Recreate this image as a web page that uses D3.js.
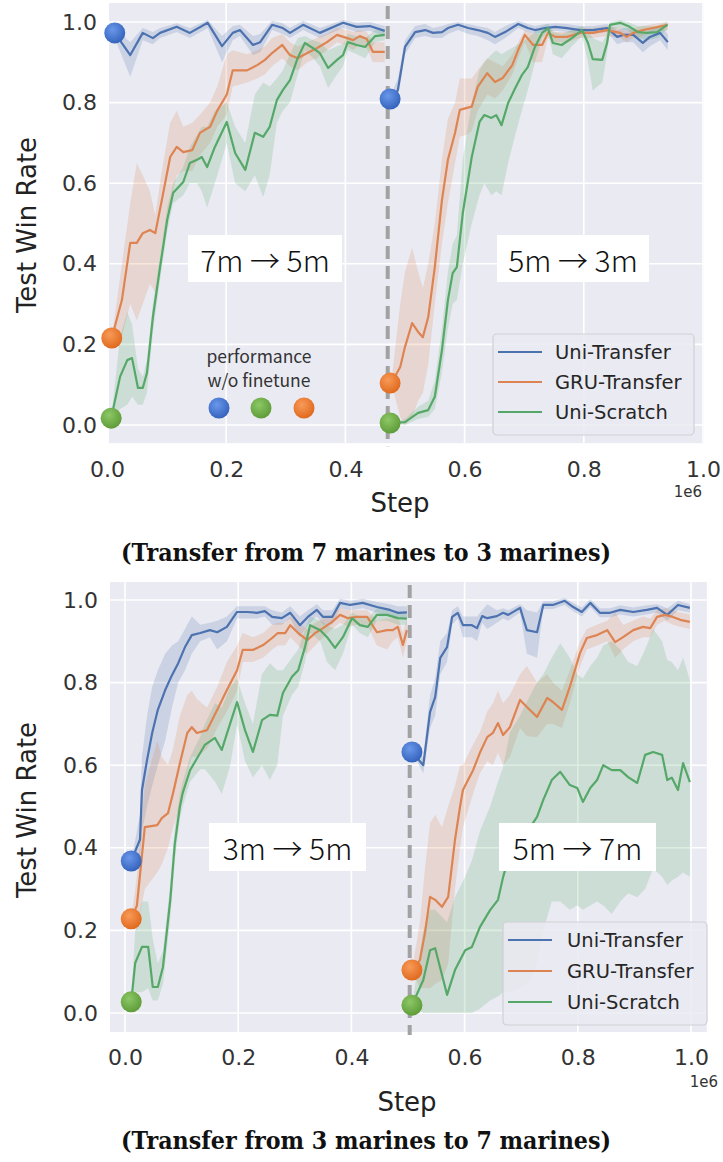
<!DOCTYPE html>
<html><head><meta charset="utf-8">
<script src="https://cdn.jsdelivr.net/npm/d3@7"></script>
<style>body{margin:0;background:#fff}svg{display:block}</style>
</head><body>
<svg id="c" width="723" height="1162"></svg>
<script>
// ---------- DATA ([step (1e6), mean, lower, upper]) ----------
const seriesNames = ["Uni-Transfer", "GRU-Transfer", "Uni-Scratch"];
const xTicks = [0, 0.2, 0.4, 0.6, 0.8, 1.0];
const yTicks = [0, 0.2, 0.4, 0.6, 0.8, 1.0];
const captions = ["(Transfer from 7 marines to 3 marines)", "(Transfer from 3 marines to 7 marines)"];
const stageLabels = [["7m \u2192 5m", "5m \u2192 3m"], ["3m \u2192 5m", "5m \u2192 7m"]];
const switchStep = [0.471, 0.503];
const noteDotOrder = [0, 2, 1]; // blue, green, orange

// zero-shot points (performance w/o finetune): [step, value]
const topDots = [[[0.013,0.973],[0.008,0.216],[0.007,0.017]], [[0.475,0.809],[0.475,0.104],[0.475,0.005]]];
const botDots = [[[0.011,0.368],[0.011,0.228],[0.011,0.027]], [[0.507,0.632],[0.507,0.104],[0.507,0.019]]];

const topUniA = [[0.013,0.973,0.960,0.985],[0.039,0.918,0.864,0.950],[0.060,0.973,0.955,0.985],[0.077,0.960,0.945,0.975],[0.089,0.973,0.960,0.985],[0.117,0.988,0.975,0.997],[0.139,0.973,0.960,0.985],[0.169,0.998,0.985,1.005],[0.193,0.940,0.900,0.965],[0.211,0.973,0.955,0.990],[0.223,0.980,0.965,0.993],[0.245,0.943,0.918,0.965],[0.257,0.950,0.925,0.970],[0.277,0.993,0.980,1.003],[0.295,0.985,0.970,0.997],[0.307,0.973,0.960,0.985],[0.329,0.993,0.980,1.003],[0.357,0.973,0.960,0.985],[0.396,0.998,0.985,1.005],[0.419,0.988,0.975,0.998],[0.441,0.990,0.978,1.000],[0.466,0.978,0.965,0.990]];
const topGruA = [[0.008,0.216,0.216,0.216],[0.025,0.31,0.22,0.40],[0.039,0.452,0.30,0.55],[0.050,0.452,0.26,0.65],[0.060,0.476,0.30,0.62],[0.072,0.484,0.35,0.58],[0.081,0.476,0.33,0.52],[0.092,0.558,0.45,0.63],[0.106,0.665,0.55,0.75],[0.117,0.690,0.62,0.78],[0.128,0.677,0.63,0.74],[0.143,0.682,0.63,0.75],[0.156,0.725,0.67,0.77],[0.173,0.740,0.70,0.80],[0.185,0.780,0.74,0.84],[0.201,0.820,0.77,0.92],[0.211,0.880,0.84,0.93],[0.235,0.880,0.85,0.92],[0.252,0.893,0.86,0.93],[0.265,0.906,0.87,0.94],[0.277,0.923,0.89,0.96],[0.294,0.943,0.91,0.97],[0.307,0.918,0.89,0.95],[0.320,0.910,0.88,0.94],[0.336,0.923,0.90,0.95],[0.352,0.935,0.91,0.96],[0.369,0.950,0.93,0.97],[0.386,0.968,0.95,0.985],[0.403,0.960,0.94,0.98],[0.413,0.955,0.93,0.975],[0.424,0.965,0.945,0.98],[0.436,0.958,0.935,0.975],[0.446,0.926,0.90,0.95],[0.466,0.926,0.90,0.95]];
const topScrA = [[0.007,0.017,0.017,0.017],[0.022,0.120,0.04,0.22],[0.034,0.161,0.05,0.28],[0.042,0.166,0.07,0.25],[0.052,0.092,0.05,0.14],[0.060,0.092,0.05,0.12],[0.067,0.129,0.08,0.16],[0.077,0.268,0.23,0.30],[0.089,0.392,0.36,0.42],[0.101,0.509,0.48,0.54],[0.111,0.576,0.55,0.60],[0.128,0.603,0.57,0.64],[0.139,0.650,0.60,0.69],[0.151,0.658,0.60,0.72],[0.159,0.665,0.58,0.74],[0.168,0.640,0.54,0.74],[0.181,0.690,0.60,0.78],[0.201,0.752,0.70,0.80],[0.215,0.675,0.60,0.74],[0.232,0.633,0.58,0.70],[0.248,0.725,0.62,0.82],[0.262,0.715,0.566,0.85],[0.273,0.740,0.62,0.84],[0.285,0.806,0.75,0.86],[0.295,0.831,0.78,0.88],[0.307,0.856,0.80,0.92],[0.320,0.911,0.87,0.96],[0.332,0.948,0.93,0.965],[0.346,0.935,0.91,0.955],[0.357,0.923,0.89,0.95],[0.371,0.886,0.836,0.93],[0.386,0.906,0.87,0.94],[0.396,0.918,0.89,0.945],[0.404,0.950,0.93,0.97],[0.419,0.943,0.92,0.965],[0.433,0.938,0.91,0.96],[0.450,0.965,0.95,0.98],[0.466,0.968,0.955,0.98]];

const topUniB = [[0.477,0.809,0.80,0.82],[0.488,0.831,0.81,0.86],[0.500,0.938,0.92,0.955],[0.517,0.975,0.96,0.99],[0.534,0.980,0.965,0.995],[0.547,0.973,0.96,0.985],[0.562,0.975,0.96,0.99],[0.572,0.985,0.97,0.995],[0.589,0.993,0.98,1.0],[0.606,0.985,0.97,0.995],[0.622,0.980,0.965,0.99],[0.639,0.973,0.955,0.985],[0.651,0.963,0.945,0.975],[0.668,0.975,0.96,0.99],[0.690,0.995,0.985,1.003],[0.706,0.985,0.975,0.995],[0.718,0.980,0.97,0.99],[0.735,0.985,0.975,0.995],[0.752,0.988,0.978,0.997],[0.772,0.985,0.975,0.995],[0.794,0.980,0.97,0.99],[0.815,0.980,0.97,0.99],[0.839,0.985,0.975,0.995],[0.856,0.963,0.945,0.98],[0.866,0.968,0.95,0.985],[0.883,0.968,0.95,0.985],[0.899,0.948,0.925,0.97],[0.911,0.963,0.94,0.98],[0.928,0.973,0.955,0.99],[0.941,0.950,0.93,0.97]];
const topGruB = [[0.477,0.104,0.104,0.104],[0.492,0.144,0.02,0.30],[0.500,0.194,0.00,0.38],[0.512,0.253,0.02,0.44],[0.522,0.231,0.06,0.38],[0.530,0.218,0.08,0.34],[0.539,0.268,0.15,0.40],[0.550,0.392,0.30,0.50],[0.562,0.558,0.45,0.66],[0.572,0.658,0.55,0.76],[0.584,0.725,0.65,0.80],[0.592,0.782,0.715,0.86],[0.604,0.787,0.72,0.86],[0.612,0.790,0.73,0.86],[0.622,0.839,0.78,0.88],[0.638,0.873,0.82,0.91],[0.651,0.851,0.81,0.90],[0.664,0.861,0.83,0.89],[0.680,0.893,0.87,0.92],[0.690,0.931,0.91,0.95],[0.701,0.968,0.95,0.98],[0.715,0.943,0.90,0.97],[0.730,0.943,0.90,0.97],[0.740,0.973,0.96,0.985],[0.752,0.963,0.95,0.975],[0.772,0.963,0.95,0.975],[0.794,0.973,0.96,0.985],[0.815,0.973,0.96,0.985],[0.839,0.980,0.965,0.99],[0.861,0.973,0.96,0.985],[0.872,0.963,0.95,0.975],[0.883,0.973,0.96,0.985],[0.899,0.980,0.965,0.99],[0.916,0.985,0.975,0.995],[0.941,0.993,0.98,1.0]];
const topScrB = [[0.477,0.005,0.005,0.005],[0.500,0.007,0.0,0.015],[0.522,0.030,0.015,0.045],[0.539,0.037,0.02,0.06],[0.550,0.070,0.04,0.11],[0.562,0.186,0.13,0.24],[0.572,0.310,0.24,0.38],[0.580,0.377,0.30,0.45],[0.587,0.392,0.31,0.47],[0.597,0.526,0.40,0.66],[0.612,0.665,0.50,0.80],[0.625,0.752,0.57,0.88],[0.633,0.769,0.60,0.90],[0.645,0.762,0.57,0.92],[0.653,0.769,0.58,0.93],[0.662,0.744,0.57,0.92],[0.673,0.799,0.65,0.93],[0.685,0.836,0.72,0.94],[0.696,0.868,0.78,0.95],[0.706,0.888,0.83,0.96],[0.718,0.938,0.90,0.975],[0.730,0.973,0.96,0.99],[0.740,0.985,0.975,0.995],[0.748,0.948,0.92,0.975],[0.763,0.943,0.91,0.97],[0.780,0.960,0.94,0.98],[0.797,0.980,0.965,0.99],[0.807,0.948,0.90,0.98],[0.815,0.908,0.83,0.96],[0.831,0.906,0.85,0.95],[0.839,0.948,0.92,0.97],[0.844,0.993,0.98,1.0],[0.861,0.998,0.985,1.005],[0.877,0.988,0.975,0.998],[0.891,0.975,0.96,0.99],[0.906,0.973,0.955,0.99],[0.923,0.975,0.96,0.99],[0.940,0.993,0.98,1.0]];

const botUniA = [[0.011,0.368,0.368,0.368],[0.0265,0.42,0.36,0.48],[0.030,0.54,0.44,0.62],[0.039,0.613,0.50,0.72],[0.048,0.678,0.55,0.79],[0.058,0.734,0.60,0.83],[0.071,0.782,0.66,0.87],[0.083,0.818,0.74,0.89],[0.094,0.847,0.80,0.90],[0.106,0.886,0.83,0.93],[0.118,0.915,0.87,0.96],[0.133,0.920,0.90,0.94],[0.150,0.927,0.91,0.945],[0.163,0.922,0.88,0.95],[0.180,0.935,0.90,0.96],[0.198,0.971,0.955,0.985],[0.216,0.971,0.955,0.985],[0.233,0.969,0.955,0.985],[0.247,0.973,0.96,0.985],[0.260,0.959,0.94,0.975],[0.277,0.956,0.94,0.97],[0.292,0.969,0.955,0.985],[0.309,0.939,0.91,0.96],[0.323,0.959,0.94,0.975],[0.339,0.976,0.96,0.99],[0.350,0.959,0.94,0.975],[0.366,0.959,0.94,0.975],[0.380,0.993,0.98,1.003],[0.398,0.988,0.975,0.998],[0.420,0.993,0.98,1.003],[0.445,0.983,0.97,0.995],[0.468,0.976,0.96,0.99],[0.482,0.969,0.955,0.985],[0.498,0.970,0.955,0.985]];
const botGruA = [[0.011,0.228,0.228,0.228],[0.021,0.26,0.20,0.33],[0.035,0.450,0.30,0.55],[0.057,0.455,0.34,0.66],[0.065,0.472,0.36,0.62],[0.076,0.484,0.40,0.60],[0.085,0.533,0.45,0.64],[0.097,0.605,0.50,0.72],[0.110,0.678,0.58,0.77],[0.118,0.692,0.62,0.78],[0.127,0.678,0.62,0.76],[0.145,0.685,0.64,0.74],[0.163,0.734,0.69,0.79],[0.180,0.782,0.73,0.85],[0.198,0.830,0.78,0.89],[0.208,0.879,0.85,0.92],[0.226,0.879,0.85,0.91],[0.244,0.891,0.86,0.92],[0.260,0.908,0.88,0.94],[0.270,0.920,0.89,0.945],[0.283,0.920,0.89,0.945],[0.292,0.939,0.91,0.96],[0.306,0.920,0.89,0.945],[0.322,0.903,0.87,0.93],[0.336,0.920,0.89,0.945],[0.350,0.932,0.91,0.955],[0.366,0.947,0.93,0.965],[0.380,0.964,0.945,0.98],[0.394,0.956,0.935,0.975],[0.410,0.959,0.94,0.975],[0.428,0.959,0.94,0.975],[0.445,0.922,0.89,0.95],[0.463,0.927,0.88,0.955],[0.473,0.927,0.90,0.955],[0.482,0.935,0.91,0.96],[0.491,0.891,0.86,0.92],[0.498,0.927,0.90,0.955]];
const botScrA = [[0.011,0.027,0.027,0.027],[0.018,0.121,0.05,0.20],[0.030,0.160,0.05,0.27],[0.041,0.160,0.06,0.27],[0.049,0.063,0.03,0.18],[0.058,0.063,0.03,0.12],[0.067,0.111,0.07,0.15],[0.080,0.274,0.23,0.31],[0.088,0.410,0.37,0.45],[0.097,0.500,0.47,0.53],[0.102,0.533,0.50,0.56],[0.115,0.588,0.56,0.62],[0.133,0.630,0.59,0.67],[0.141,0.649,0.59,0.70],[0.159,0.666,0.56,0.75],[0.171,0.637,0.53,0.74],[0.186,0.702,0.60,0.79],[0.198,0.753,0.70,0.81],[0.212,0.685,0.61,0.75],[0.226,0.632,0.57,0.70],[0.242,0.709,0.60,0.82],[0.256,0.722,0.565,0.847],[0.269,0.720,0.60,0.83],[0.279,0.775,0.72,0.83],[0.295,0.814,0.77,0.86],[0.306,0.830,0.79,0.88],[0.318,0.886,0.85,0.93],[0.327,0.939,0.92,0.96],[0.345,0.927,0.90,0.95],[0.357,0.910,0.85,0.94],[0.371,0.884,0.83,0.93],[0.385,0.910,0.87,0.94],[0.401,0.956,0.94,0.97],[0.415,0.939,0.92,0.96],[0.429,0.935,0.91,0.955],[0.445,0.964,0.95,0.98],[0.463,0.964,0.95,0.98],[0.482,0.956,0.94,0.97],[0.498,0.955,0.94,0.97]];

const botUniB = [[0.507,0.632,0.632,0.632],[0.527,0.600,0.58,0.62],[0.539,0.729,0.69,0.77],[0.548,0.765,0.72,0.81],[0.557,0.860,0.82,0.90],[0.569,0.886,0.85,0.92],[0.578,0.959,0.94,0.975],[0.588,0.969,0.955,0.985],[0.597,0.939,0.91,0.96],[0.613,0.939,0.91,0.96],[0.622,0.932,0.90,0.96],[0.631,0.961,0.945,0.975],[0.640,0.956,0.93,0.99],[0.657,0.961,0.945,0.975],[0.668,0.969,0.955,0.98],[0.677,0.964,0.95,0.975],[0.698,0.981,0.97,0.99],[0.710,0.927,0.87,0.975],[0.728,0.922,0.86,0.97],[0.739,0.988,0.978,0.997],[0.756,0.988,0.978,0.997],[0.777,0.998,0.988,1.005],[0.792,0.983,0.973,0.993],[0.807,0.971,0.96,0.982],[0.822,0.993,0.983,1.002],[0.839,0.969,0.958,0.98],[0.857,0.969,0.958,0.98],[0.875,0.976,0.965,0.987],[0.898,0.971,0.96,0.982],[0.922,0.976,0.965,0.987],[0.940,0.981,0.97,0.99],[0.958,0.964,0.95,0.98],[0.977,0.988,0.975,0.998],[0.998,0.981,0.97,0.99]];
const botGruB = [[0.507,0.104,0.104,0.104],[0.521,0.128,0.06,0.22],[0.530,0.194,0.06,0.35],[0.539,0.281,0.06,0.46],[0.548,0.274,0.07,0.48],[0.560,0.257,0.08,0.45],[0.571,0.281,0.12,0.50],[0.583,0.419,0.30,0.55],[0.592,0.500,0.40,0.60],[0.597,0.540,0.45,0.60],[0.615,0.588,0.53,0.65],[0.627,0.630,0.58,0.68],[0.640,0.668,0.61,0.73],[0.650,0.678,0.60,0.75],[0.659,0.702,0.63,0.78],[0.668,0.673,0.60,0.75],[0.680,0.692,0.62,0.77],[0.698,0.758,0.69,0.82],[0.710,0.741,0.67,0.84],[0.728,0.717,0.668,0.80],[0.746,0.763,0.70,0.82],[0.756,0.753,0.70,0.80],[0.772,0.734,0.69,0.78],[0.786,0.790,0.75,0.83],[0.804,0.872,0.84,0.90],[0.816,0.908,0.88,0.93],[0.834,0.915,0.89,0.94],[0.852,0.927,0.90,0.95],[0.866,0.898,0.86,0.97],[0.880,0.910,0.88,0.94],[0.898,0.927,0.90,0.95],[0.915,0.935,0.91,0.96],[0.928,0.932,0.91,0.955],[0.940,0.959,0.94,0.975],[0.954,0.964,0.95,0.98],[0.968,0.959,0.94,0.975],[0.981,0.952,0.935,0.97],[0.998,0.947,0.93,0.965]];
const botScrB = [[0.507,0.019,0.019,0.019],[0.527,0.080,0.0,0.20],[0.539,0.152,0.0,0.25],[0.548,0.157,0.0,0.25],[0.569,0.044,0.0,0.22],[0.583,0.104,0.0,0.28],[0.601,0.152,0.0,0.33],[0.613,0.160,0.0,0.37],[0.627,0.208,0.01,0.44],[0.645,0.249,0.03,0.50],[0.659,0.274,0.04,0.56],[0.668,0.329,0.05,0.595],[0.680,0.387,0.05,0.68],[0.698,0.412,0.06,0.72],[0.716,0.450,0.08,0.77],[0.728,0.475,0.12,0.80],[0.739,0.516,0.20,0.82],[0.754,0.564,0.27,0.86],[0.769,0.584,0.27,0.895],[0.786,0.552,0.25,0.86],[0.799,0.545,0.26,0.82],[0.809,0.511,0.25,0.81],[0.822,0.545,0.26,0.84],[0.834,0.564,0.27,0.86],[0.845,0.600,0.26,0.89],[0.860,0.588,0.24,0.90],[0.875,0.588,0.27,0.88],[0.889,0.571,0.29,0.85],[0.905,0.557,0.28,0.84],[0.919,0.625,0.30,0.88],[0.933,0.632,0.35,0.93],[0.949,0.625,0.33,0.90],[0.958,0.564,0.31,0.855],[0.966,0.570,0.32,0.85],[0.977,0.540,0.33,0.83],[0.986,0.605,0.34,0.86],[0.998,0.559,0.33,0.806]];

// ---------- STYLE ----------
const lineColors = ["#4c72b0", "#dd8452", "#55a868"];
const dotColors = [["#6a97ea", "#3564bd"], ["#f89a58", "#e06a1e"], ["#8cc865", "#5f9c3a"]];

const panels = [
  {series: [[topUniA, topUniB], [topGruA, topGruB], [topScrA, topScrB]], dots: topDots,
   xr: [107, 703], yr: [425, 22], xdom: [0.0034, 1.0017], ydom: [-0.045, 1.047],
   labelBoxes: [[188, 235, 154, 47], [497, 235, 152, 47]],
   legend: {x: 493, y: 334, w: 201, h: 101, rows: [352, 382, 412], lx: 498, tx: 555},
   ylabelY: 225, xlabelY: 512, tickY: 478, e6: [688, 497], stepX: 400, capY: 561, showNote: true},
  {series: [[botUniA, botUniB], [botGruA, botGruB], [botScrA, botScrB]], dots: botDots,
   xr: [125, 691], yr: [1013, 600], xdom: [-0.0265, 1.028], ydom: [-0.046, 1.0436],
   labelBoxes: [[209, 823, 157, 48], [499, 823, 157, 48]],
   legend: {x: 503, y: 922, w: 204, h: 103, rows: [940, 971, 1002], lx: 508, tx: 567},
   ylabelY: 810, xlabelY: 1111, tickY: 1066, e6: [704, 1087], stepX: 407, capY: 1149, showNote: false}
];

const svg = d3.select("#c");
const defs = svg.append("defs");
dotColors.forEach((c, i) => {
  const g = defs.append("radialGradient").attr("id", "dg" + i).attr("cx", "40%").attr("cy", "35%").attr("r", "65%");
  g.append("stop").attr("offset", "0%").attr("stop-color", c[0]);
  g.append("stop").attr("offset", "100%").attr("stop-color", c[1]);
});

panels.forEach((p, pi) => {
  const x = d3.scaleLinear().domain([0, 1]).range(p.xr);
  const y = d3.scaleLinear().domain([0, 1]).range(p.yr);
  const x0 = x(p.xdom[0]), x1 = x(p.xdom[1]), y0 = y(p.ydom[0]), y1 = y(p.ydom[1]);
  const g = svg.append("g");
  defs.append("clipPath").attr("id", "clip" + pi).append("rect")
    .attr("x", x0).attr("y", y1).attr("width", x1 - x0).attr("height", y0 - y1);

  g.append("rect").attr("x", x0).attr("y", y1).attr("width", x1 - x0).attr("height", y0 - y1).attr("fill", "#eaeaf2");
  const grid = g.append("g").attr("clip-path", `url(#clip${pi})`);
  grid.selectAll(".vx").data(xTicks).join("line")
    .attr("x1", d => x(d)).attr("x2", d => x(d)).attr("y1", y1).attr("y2", y0)
    .attr("stroke", "#fff").attr("stroke-width", 1.6);
  grid.selectAll(".hy").data(yTicks).join("line")
    .attr("y1", d => y(d)).attr("y2", d => y(d)).attr("x1", x0).attr("x2", x1)
    .attr("stroke", "#fff").attr("stroke-width", 1.6);

  // axes (tick labels)
  const xa = g.append("g").attr("transform", `translate(0,${p.tickY - 17})`)
    .call(d3.axisBottom(x).tickValues(xTicks).tickFormat(d3.format(".1f")).tickSize(0).tickPadding(0));
  xa.select(".domain").remove();
  xa.selectAll("text").attr("font-family", "DejaVu Sans").attr("font-size", 22).attr("fill", "#333").attr("dy", "0.71em");
  const ya = g.append("g").attr("transform", `translate(${x0 - 12},0)`)
    .call(d3.axisLeft(y).tickValues(yTicks).tickFormat(d3.format(".1f")).tickSize(0).tickPadding(0));
  ya.select(".domain").remove();
  ya.selectAll("text").attr("font-family", "DejaVu Sans").attr("font-size", 22).attr("fill", "#333");

  g.append("text").attr("transform", `translate(27,${p.ylabelY}) rotate(-90)`).attr("text-anchor", "middle")
    .attr("dominant-baseline", "central").attr("font-family", "DejaVu Sans").attr("font-size", 26).attr("fill", "#222").text("Test Win Rate");
  g.append("text").attr("x", p.stepX).attr("y", p.xlabelY).attr("text-anchor", "middle")
    .attr("font-family", "DejaVu Sans").attr("font-size", 26).attr("fill", "#222").text("Step");
  g.append("text").attr("x", p.e6[0]).attr("y", p.e6[1]).attr("text-anchor", "middle")
    .attr("font-family", "DejaVu Sans").attr("font-size", 15).attr("fill", "#333").text("1e6");

  const plot = g.append("g").attr("clip-path", `url(#clip${pi})`);
  const area = d3.area().x(d => x(d[0])).y0(d => y(d[2])).y1(d => y(d[3]));
  const line = d3.line().x(d => x(d[0])).y(d => y(d[1]));
  p.series.forEach((segs, si) => segs.forEach(seg => {
    plot.append("path").attr("d", area(seg)).attr("fill", lineColors[si]).attr("fill-opacity", 0.2);
  }));
  p.series.forEach((segs, si) => segs.forEach(seg => {
    plot.append("path").attr("d", line(seg)).attr("fill", "none").attr("stroke", lineColors[si])
      .attr("stroke-width", 2.2).attr("stroke-linejoin", "round");
  }));

  // phase switch
  g.append("line").attr("x1", x(switchStep[pi])).attr("x2", x(switchStep[pi])).attr("y1", y1 + 3).attr("y2", y0 + 3)
    .attr("stroke", "#a2a2a2").attr("stroke-width", 4).attr("stroke-dasharray", "13,7");

  // zero-shot dots
  p.dots.forEach(ph => ph.forEach((d, si) => {
    g.append("circle").attr("cx", x(d[0])).attr("cy", y(d[1])).attr("r", 10.5).attr("fill", `url(#dg${si})`);
  }));

  // stage labels
  p.labelBoxes.forEach((b, k) => {
    g.append("rect").attr("x", b[0]).attr("y", b[1]).attr("width", b[2]).attr("height", b[3]).attr("fill", "#fff");
    g.append("text").attr("x", b[0] + b[2] / 2).attr("y", b[1] + b[3] / 2).attr("text-anchor", "middle")
      .attr("dominant-baseline", "central").attr("font-family", "Noto Sans CJK JP").attr("font-weight", 300)
      .attr("font-size", 30).attr("fill", "#111").text(stageLabels[pi][k]);
  });

  // legend
  const L = p.legend;
  g.append("rect").attr("x", L.x).attr("y", L.y).attr("width", L.w).attr("height", L.h).attr("rx", 4)
    .attr("fill", "#eaeaf2").attr("fill-opacity", 0.85).attr("stroke", "#cfcfd6").attr("stroke-width", 1.2);
  seriesNames.forEach((n, si) => {
    g.append("line").attr("x1", L.lx).attr("x2", L.lx + 44).attr("y1", L.rows[si]).attr("y2", L.rows[si])
      .attr("stroke", lineColors[si]).attr("stroke-width", 2.2);
    g.append("text").attr("x", L.tx).attr("y", L.rows[si]).attr("dominant-baseline", "central")
      .attr("font-family", "DejaVu Sans").attr("font-size", 19.5).attr("fill", "#262626").text(n);
  });

  if (p.showNote) {
    g.append("text").attr("x", 259).attr("y", 363).attr("text-anchor", "middle").attr("font-family", "Noto Sans CJK SC")
      .attr("font-size", 17.5).attr("fill", "#333").text("performance");
    g.append("text").attr("x", 259).attr("y", 387).attr("text-anchor", "middle").attr("font-family", "Noto Sans CJK SC")
      .attr("font-size", 17.5).attr("fill", "#333").text("w/o finetune");
    [219, 261, 304].forEach((cx, i) => {
      g.append("circle").attr("cx", cx).attr("cy", 408).attr("r", 10.5).attr("fill", `url(#dg${noteDotOrder[i]})`);
    });
  }

  // caption
  svg.append("text").attr("x", 366).attr("y", p.capY).attr("text-anchor", "middle")
    .attr("font-family", "DejaVu Serif").attr("font-weight", "bold").attr("font-size", 24)
    .attr("textLength", 490).attr("lengthAdjust", "spacingAndGlyphs").attr("fill", "#111").text(captions[pi]);
});
</script>
</body></html>
